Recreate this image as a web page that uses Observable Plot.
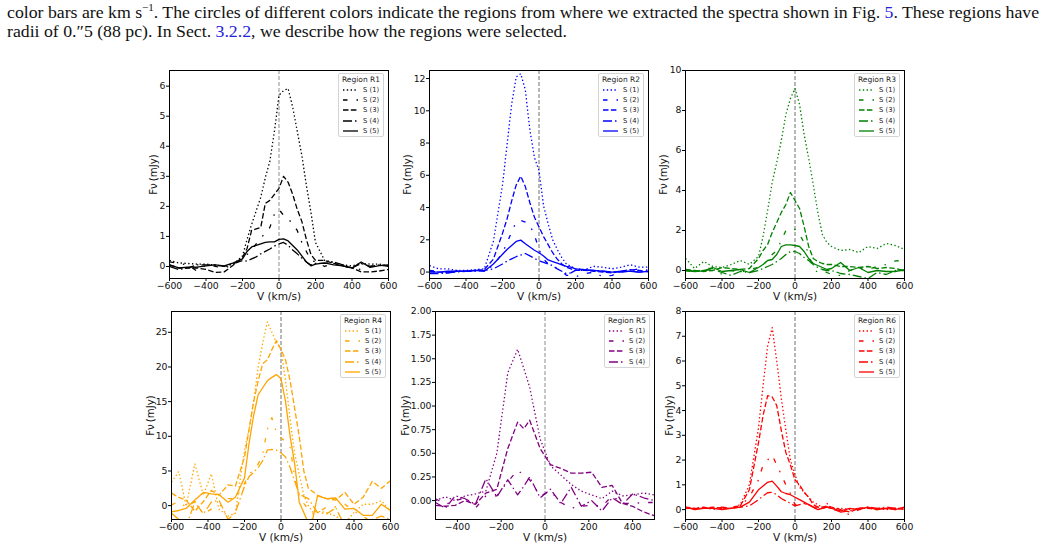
<!DOCTYPE html>
<html><head><meta charset="utf-8">
<script src="https://cdn.jsdelivr.net/npm/d3@7"></script>
<script src="https://cdn.jsdelivr.net/npm/@observablehq/plot@0.6"></script>
<style>
html,body{margin:0;padding:0;background:#fff;width:1056px;height:547px;overflow:hidden}
#root{position:relative;width:1056px;height:547px}
.cap{position:absolute;left:7px;font:17.75px/19px "Liberation Serif",serif;white-space:nowrap;color:#111}
.cap a{color:#2222dd;text-decoration:none}
.cap sup{font-size:11px;line-height:0}
.leg{position:absolute;box-sizing:border-box;width:46px;background:#fff;border:1px solid #d4d4d4;border-radius:2px;font-family:"DejaVu Sans",sans-serif;color:#222}
.leg .t{font-size:7.5px;text-align:center;line-height:10px;margin-top:1px;height:10px;white-space:nowrap}
.leg .r{height:10.2px;display:flex;align-items:center;font-size:6.8px;white-space:nowrap}
.leg svg{display:block;margin:0 5px 0 4px;flex:none}
</style></head><body><div id="root"></div>
<script>
const GRID = [-600,-550,-500,-450,-400,-350,-300,-250,-200,-175,-150,-125,-100,-75,-50,-25,0,25,50,75,100,125,150,175,200,250,300,350,400,450,500,550,600];
const GRID_R4 = [-600,-560,-520,-472,-425,-382,-340,-290,-250,-200,-175,-150,-125,-100,-75,-50,-25,0,25,50,75,100,125,150,175,200,250,300,350,400,450,500,550,600];
const GRID_R5 = [-500,-455,-410,-365,-318,-270,-220,-170,-125,-97,-70,-22,25,72,120,166,213,260,307,354,400,450,500];

const R1_S1 = [.2,.12,.1,.08,.08,.05,0,.08,.35,.9,1.4,1.85,2.3,2.95,3.5,4.5,5.7,5.85,5.92,5.3,4.5,3.7,2.7,1.8,.8,.2,.15,.05,.02,.1,.08,.08,.02];
const R1_S2 = [.15,.1,.05,-.15,.05,0,-.05,.05,.25,.4,.55,.75,.95,1.1,1.3,1.75,1.9,1.7,1.6,1.4,1.2,.8,.5,.2,.15,0,.1,0,-.05,-.1,0,.05,0];
const R1_S3 = [.05,-.05,-.05,-.05,-.1,-.2,-.18,.05,.3,.6,1.2,1.25,1.3,2.1,2.2,2.4,2.6,3,2.8,2.4,1.9,1.5,.9,.4,.2,.2,.1,.02,-.05,-.18,-.18,-.15,-.1];
const R1_S4 = [0,-.1,-.05,.05,.05,.05,0,.1,.2,.18,.25,.32,.42,.5,.58,.68,.75,.8,.7,.55,.42,.28,.15,.05,.1,.1,.15,.05,-.05,.1,0,.05,0];
const R1_S5 = [.05,-.05,-.02,-.02,.02,.05,.02,.12,.25,.5,.65,.7,.75,.8,.82,.82,.9,.92,.85,.7,.55,.35,.15,.02,.08,.12,.05,.02,-.05,.15,-.03,.03,.05];

const R2_S1 = [.4,.2,.2,.1,.1,.15,.2,1.9,5.4,7.9,10.4,12.1,12.3,11.3,8.8,7.1,6.3,4.1,3,2,1.4,.9,.5,.35,.2,.15,.35,.3,.2,.3,.45,.3,.3];
const R2_S2 = [.1,.05,0,.05,.05,.1,.1,.4,1.2,1.8,2.5,3.1,3.2,3.1,2.9,2.3,1.4,.8,.5,.35,.2,.05,-.2,-.2,-.3,-.1,0,-.3,-.2,0,.1,.2,.1];
const R2_S3 = [.05,0,-.05,.05,.05,.1,.15,.8,2.4,3.3,4.4,5.4,5.95,5.3,4.3,3.4,2.8,2.2,1.7,1.2,.8,.5,.3,.2,.1,.1,.05,0,-.05,.05,.15,.1,0];
const R2_S4 = [-.1,-.1,-.05,0,.05,.05,.1,.2,.5,.68,.82,.95,1.05,1.15,1,.85,.7,.6,.5,.4,.2,.05,-.1,-.05,.1,.1,.1,.05,0,0,.05,0,.05];
const R2_S5 = [0,0,.05,.05,.05,.1,.05,.5,1.1,1.4,1.65,1.9,1.98,1.75,1.55,1.35,1.2,1,.75,.65,.55,.45,.35,.3,.2,.15,.1,.05,0,.05,.05,0,.05];

const R3_S1 = [.6,.1,.45,.2,.15,.3,.5,.3,.7,1.7,3,4.4,5.4,6.5,7.8,8.6,9.1,8.3,6.8,5.6,4.3,2.9,1.8,1.4,1.2,1,1.05,.9,1.2,1.1,1.35,1.25,1.05];
const R3_S2 = [0,-.1,.1,.1,-.2,0,-.1,.05,.15,.3,.5,.8,1,1.5,2,2.1,2.05,1.8,1.4,.8,.1,-.1,-.05,-.1,-.2,-.25,0,.1,.05,.2,.3,.48,.5];
const R3_S3 = [.05,0,-.05,0,.15,.1,.05,.1,.6,1,1.3,1.9,2.4,2.9,3.3,3.9,3.5,3.1,2.2,1.2,.6,.45,.35,.3,.3,.2,.2,.15,.2,.1,.15,.1,0];
const R3_S4 = [.05,-.05,0,.05,-.1,-.25,-.05,-.1,0,.1,.2,.3,.45,.6,.8,.95,.95,.85,.65,.5,.3,.15,.05,0,0,-.15,-.2,-.3,-.4,-.1,-.2,0,0];
const R3_S5 = [0,-.05,-.02,.15,-.05,0,.05,-.1,.15,.3,.5,.55,.8,1.2,1.28,1.28,1.25,1.2,.95,.6,.35,.25,.15,.05,.1,.4,0,.15,-.1,0,-.05,-.05,.05];

const R4_S1 = [3.4,4.9,-.1,6,1.5,4.6,-.5,-1.5,-1.1,8,11,15,20,23.5,26.5,25,23.5,22.5,18,12.5,7.5,4.5,1.5,0,-1,-.8,-1,-1.5,-2.5,-1,.2,.2,.7,-.8];
const R4_S2 = [.1,.6,-.2,.6,-1.2,-.5,-.2,1,1,3.2,4.5,5.2,6,7.5,11,12.7,10.5,9.8,9.2,8.5,4,1.5,.3,-.5,-1.2,-1,-.2,-.2,.2,-.8,-1.5,-2.5,-2.5,-3];
const R4_S3 = [1.8,1.2,.8,-.8,.6,2.2,1.5,3,2.8,7,11,15,18,20.5,21,22.5,23.8,22.5,21,18,14,10,5,2.5,2,1.5,1,.8,1.9,.2,1.2,3.5,2.5,3.6];
const R4_S4 = [-1.1,-2,-3,.5,-1.2,.5,.8,-2,-1,2.8,4.2,4.8,5.5,6.5,8,8.1,8,7.6,7,5.5,3.5,1.7,1.3,1,0,-1,-1.2,-.3,-3,-3,-3,-2,-1.5,-2];
const R4_S5 = [-.9,-.7,-.4,.8,1.9,1.7,1.6,.5,1.2,4,9,13,16,17,18,18.5,18.9,18.3,15,10,6,.5,-1,-2.5,-1.8,1.4,1,1.1,-.5,-.4,-1.4,-1.4,.2,-.7];

const R5_S1 = [0,.04,0,.05,.07,.1,.5,1.35,1.6,1.4,1.2,.65,.37,.27,.17,.1,.06,.02,.1,.05,.06,.08,.06];
const R5_S2 = [.02,-.04,0,.03,-.08,.05,.05,.2,.32,.27,.22,.05,.1,-.02,-.08,-.06,-.05,-.06,.05,-.03,-.03,-.02,-.02];
const R5_S3 = [-.05,-.06,-.05,0,-.04,.08,.12,.55,.83,.76,.85,.55,.38,.34,.29,.29,.3,.14,.16,-.03,-.06,-.12,-.16];
const R5_S4 = [-.02,-.08,.05,.02,-.04,.23,.04,.22,.06,.15,.25,.03,.12,-.03,.14,-.06,0,-.11,.03,-.04,.07,.03,0];

const R6_S1 = [.05,.05,.05,.05,.05,.05,.2,1,3.3,5,6.6,7.35,6,4.5,3.2,2,1.4,.9,.7,.5,.3,.2,.1,.1,.05,.05,0,.05,.05,.05,0,.05,.05];
const R6_S2 = [.1,.05,.05,.05,.05,.1,.15,.5,1.2,1.8,2,2.2,1.8,1.4,1,.65,.2,.15,.2,.25,.1,.1,.1,.25,.05,-.1,-.2,0,.05,.05,.05,0,.1];
const R6_S3 = [.05,.05,.05,.1,.05,.05,.15,.8,2.7,3.8,4.6,4.55,4.2,3.2,2.3,1.8,1.2,1,.7,.5,.2,.1,.1,.15,.1,0,-.1,.05,.05,0,.05,.05,0];
const R6_S4 = [.05,.05,.1,0,.1,.05,.1,.15,.4,.55,.68,.7,.6,.45,.35,.25,.15,.2,.25,.2,.1,0,.05,.1,.05,-.1,-.05,.05,.1,.05,.1,.05,.05];
const R6_S5 = [.1,0,.05,.05,0,.05,.1,.3,.8,.95,1.1,1.15,.95,.72,.65,.6,.5,.4,.3,.2,.1,0,.05,.1,.05,-.05,.05,0,.1,0,.05,0,.1];

const SERIES_NAMES = ["S (1)","S (2)","S (3)","S (4)","S (5)"];
const DASHES = ["1.4,2.4","4.5,9,1.5,9","5.5,2.4","9,3,1.5,3",null];
const X_TICKS = [-600,-400,-200,0,200,400,600];
const X_TICKS_R5 = [-400,-200,0,200,400];

const LIGHT = {stroke:"#a8a8a8",strokeWidth:1.3};
const DARK = {stroke:"#606060",strokeWidth:0.9};
const panels = [
 {name:"Region R1",color:"#000",V:GRID,series:[R1_S1,R1_S2,R1_S3,R1_S4,R1_S5],xd:[-600,600],yd:[-.4,6.52],xt:X_TICKS,yt:[0,1,2,3,4,5,6],left:169,top:70,yl:-16,rule:LIGHT},
 {name:"Region R2",color:"#0000ff",V:GRID,series:[R2_S1,R2_S2,R2_S3,R2_S4,R2_S5],xd:[-600,600],yd:[-.4,12.5],xt:X_TICKS,yt:[0,2,4,6,8,10,12],left:429,top:70,yl:-22,rule:DARK},
 {name:"Region R3",color:"#008000",V:GRID,series:[R3_S1,R3_S2,R3_S3,R3_S4,R3_S5],xd:[-600,600],yd:[-.4,10],xt:X_TICKS,yt:[0,2,4,6,8,10],left:685,top:70,yl:-22,rule:DARK},
 {name:"Region R4",color:"#ffa500",V:GRID_R4,series:[R4_S1,R4_S2,R4_S3,R4_S4,R4_S5],xd:[-600,600],yd:[-2,28],xt:X_TICKS,yt:[0,5,10,15,20,25],left:171,top:311,yl:-21,rule:DARK},
 {name:"Region R5",color:"#800080",V:GRID_R5,series:[R5_S1,R5_S2,R5_S3,R5_S4],xd:[-500,500],yd:[-.2,2],xt:X_TICKS_R5,yt:[0,.25,.5,.75,1,1.25,1.5,1.75,2],fmt:d3.format(".2f"),left:435,top:311,yl:-30,rule:LIGHT},
 {name:"Region R6",color:"#ff0000",V:GRID,series:[R6_S1,R6_S2,R6_S3,R6_S4,R6_S5],xd:[-600,600],yd:[-.4,8],xt:X_TICKS,yt:[0,1,2,3,4,5,6,7,8],left:685,top:311,yl:-16,rule:DARK}
];

const root = document.getElementById("root");
const cap1 = document.createElement("div"); cap1.className="cap"; cap1.style.top="3px";
cap1.innerHTML='color bars are km s<sup>−1</sup>. The circles of different colors indicate the regions from where we extracted the spectra shown in Fig. <a>5</a>. These regions have';
const cap2 = document.createElement("div"); cap2.className="cap"; cap2.style.top="22px";
cap2.innerHTML='radii of 0.″5 (88 pc). In Sect. <a>3.2.2</a>, we describe how the regions were selected.';
root.append(cap1,cap2);

const ML=40,MR=10,MT=5,MB=30,W=219,H=208;
for (const p of panels) {
  const lines = p.series.map((arr,i)=>Plot.line(p.V.map((v,j)=>({v,y:arr[j]})),{x:"v",y:"y",stroke:p.color,strokeWidth:1.3,strokeDasharray:DASHES[i],strokeLinecap:"butt",clip:true}));
  const fig = Plot.plot({
    width:W+ML+MR,height:H+MT+MB,marginLeft:ML,marginRight:MR,marginTop:MT,marginBottom:MB,
    style:{fontFamily:'"DejaVu Sans",sans-serif',fontSize:"9.3px",color:"#111",background:"transparent",overflow:"visible"},
    x:{domain:p.xd},y:{domain:p.yd},
    marks:[
      Plot.ruleX([0],{...p.rule,strokeDasharray:"4,2"}),
      ...lines,
      Plot.frame({stroke:"#000",strokeWidth:1}),
      Plot.axisX({ticks:p.xt,tickSize:3,tickPadding:1,label:null,tickFormat:d=>d3.format("d")(d).replace("-","−"),stroke:"#000"}),
      Plot.axisY({ticks:p.yt,tickSize:3,tickPadding:1,label:null,tickFormat:p.fmt||(d=>String(d)),stroke:"#000"}),
      Plot.text(["V (km/s)"],{frameAnchor:"bottom",dy:21,fontSize:10.5}),
      Plot.text(["Fν\u2009(mJy)"],{frameAnchor:"left",textAnchor:"middle",dx:p.yl,rotate:-90,fontSize:10.2})
    ]
  });
  fig.style.position="absolute";fig.style.left=(p.left-ML)+"px";fig.style.top=(p.top-MT)+"px";
  root.append(fig);
  const leg=document.createElement("div");leg.className="leg";
  leg.style.left=(p.left+W-50)+"px";leg.style.top=(p.top+3)+"px";
  const t=document.createElement("div");t.className="t";t.textContent=p.name;leg.append(t);
  p.series.forEach((_,i)=>{
    const r=document.createElement("div");r.className="r";
    const dash=DASHES[i]?` stroke-dasharray="${DASHES[i]}"`:"";
    r.innerHTML=`<svg width="15" height="4"><line x1="0" x2="15" y1="2" y2="2" stroke="${p.color}" stroke-width="1.3"${dash}/></svg><span>${SERIES_NAMES[i]}</span>`;
    leg.append(r);
  });
  root.append(leg);
}
</script></body></html>
